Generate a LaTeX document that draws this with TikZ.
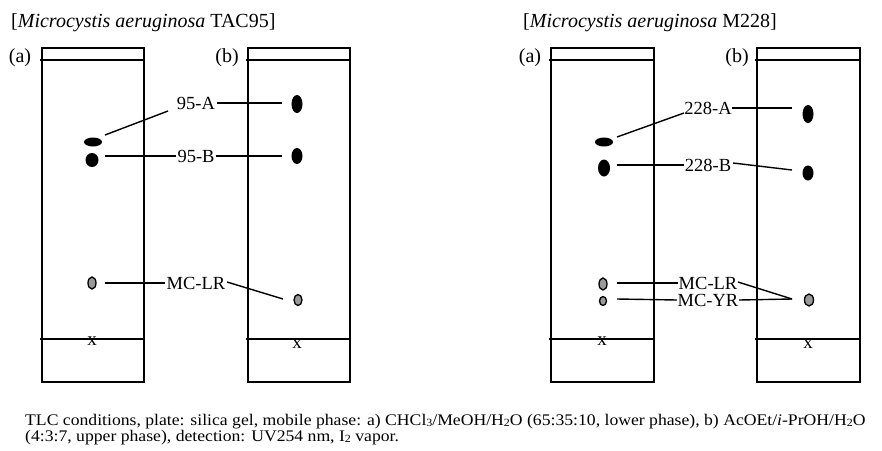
\documentclass[tikz,border=0pt]{standalone}
\usepackage{fontspec}
\setmainfont{Liberation Serif}
\newcommand\sbs[1]{\raisebox{-1pt}{\fontsize{11}{11}\selectfont #1}}
\begin{document}
\begin{tikzpicture}[x=1pt,y=-1pt,
  plate/.style={line width=1.5pt},
  spot/.style={fill=black,draw=none},
  gspot/.style={fill=black!40,draw=black,line width=1.3pt},
  conn/.style={line width=1.4pt},
  lbl/.style={font=\fontsize{18.5}{18.5}\selectfont,inner sep=1.5pt},
  plbl/.style={font=\fontsize{20}{20}\selectfont,inner sep=0pt},
  ttl/.style={font=\fontsize{20}{20}\selectfont,inner sep=0pt,anchor=base west},
  xm/.style={font=\fontsize{19}{19}\selectfont,inner sep=0pt},
  capt/.style={inner sep=0pt,anchor=base west,font=\fontsize{16.2}{16.2}\selectfont}]
\useasboundingbox[fill=white] (0,0) rectangle (882,450);

% titles
\node[ttl] (t1) at (11,27) {[\textit{Microcystis aeruginosa} TAC95]};
\node[ttl] (t2) at (523,27) {[\textit{Microcystis aeruginosa} M228]};

% plates
\foreach \nm/\xl/\xr in {la/42/144, lb/248/350, ra/551/654, rb/757/860}{
  \draw[plate] (\xl,48) rectangle (\xr,382);
  \draw[plate] (\xl-2,60) -- (\xr+1,60);
  \draw[plate] (\xl-2,339) -- (\xr+1,339);
}
\node[plbl] (pa1) at (20,58) {(a)};
\node[plbl] (pb1) at (227,58) {(b)};
\node[plbl] (pa2) at (530,58) {(a)};
\node[plbl] (pb2) at (737,58) {(b)};

\node[xm] (x1) at (92,341) {x};
\node[xm] (x2) at (297,344) {x};
\node[xm] (x3) at (602,341) {x};
\node[xm] (x4) at (808,344) {x};

% ---- TAC95 spots
\fill[spot] (93,142) ellipse [x radius=9, y radius=4.5];
\fill[spot] (92,160) ellipse [x radius=6.5, y radius=7];
\draw[gspot] (92,283) ellipse [x radius=4, y radius=6];
\fill[spot] (297,104) ellipse [x radius=5.5, y radius=9];
\fill[spot] (297,156) ellipse [x radius=5.5, y radius=8];
\draw[gspot] (298,300) ellipse [x radius=4, y radius=5.5];

\node[lbl] (A95) at (196,103) {95-A};
\node[lbl] (B95) at (196,156) {95-B};
\node[lbl] (LR1) at (196,283) {MC-LR};

\coordinate (a1) at (105,135);
\coordinate (a2) at (168,111);
\coordinate (a3) at (282,103);
\coordinate (b1) at (105,156);
\coordinate (b3) at (282,156);
\coordinate (l1) at (105,283);
\coordinate (l2) at (227,282);
\coordinate (l3) at (283,299);
\draw[conn] (a1) -- (a2);
\draw[conn] (A95.east) -- (a3);
\draw[conn] (b1) -- (B95.west);
\draw[conn] (B95.east) -- (b3);
\draw[conn] (l1) -- (LR1.west);
\draw[conn] (l2) -- (l3);

% ---- M228 spots
\fill[spot] (604,142) ellipse [x radius=9, y radius=4.5];
\fill[spot] (604,168) ellipse [x radius=6, y radius=8.5];
\draw[gspot] (603,284) ellipse [x radius=4, y radius=6];
\draw[gspot] (603,301) ellipse [x radius=3.5, y radius=4.5];
\fill[spot] (808,114) ellipse [x radius=5.5, y radius=9];
\fill[spot] (808,173) ellipse [x radius=5.5, y radius=7.5];
\draw[gspot] (809,300) ellipse [x radius=4.5, y radius=6];

\node[lbl,inner sep=0.5pt] (A228) at (708,108) {228-A};
\node[lbl,inner sep=0.5pt] (B228) at (708,165) {228-B};
\node[lbl,inner sep=0.5pt] (LR2) at (708,283) {MC-LR};
\node[lbl,inner sep=0.5pt] (YR2) at (708,300) {MC-YR};

\coordinate (c1) at (617,137);
\coordinate (c2) at (684,113);
\coordinate (c3) at (792,108);
\coordinate (d1) at (617,165);
\coordinate (d2) at (733,163);
\coordinate (d3) at (792,170);
\coordinate (e1) at (617,283);
\coordinate (e2) at (738,282);
\coordinate (e3) at (792,299);
\coordinate (f1) at (617,299);
\coordinate (f3) at (792,299);
\draw[conn] (c1) -- (c2);
\draw[conn] (A228.east) -- (c3);
\draw[conn] (d1) -- (B228.west);
\draw[conn] (d2) -- (d3);
\draw[conn] (e1) -- (LR2.west);
\draw[conn] (e2) -- (e3);
\draw[conn] (f1) -- (YR2.west);
\draw[conn] (YR2.east) -- (f3);

% caption
\node[capt] (cap1) at (25,425)
  {\scalebox{1.09}[1]{TLC conditions, plate: silica gel, mobile phase: a) CHCl\sbs{3}/MeOH/H\sbs{2}O (65:35:10, lower phase), b) AcOEt/\textit{i}-PrOH/H\sbs{2}O}};
\node[capt] (cap2) at (25,441)
  {\scalebox{1.09}[1]{(4:3:7, upper phase), detection: UV254 nm, I\sbs{2} vapor.}};
\end{tikzpicture}
\end{document}
